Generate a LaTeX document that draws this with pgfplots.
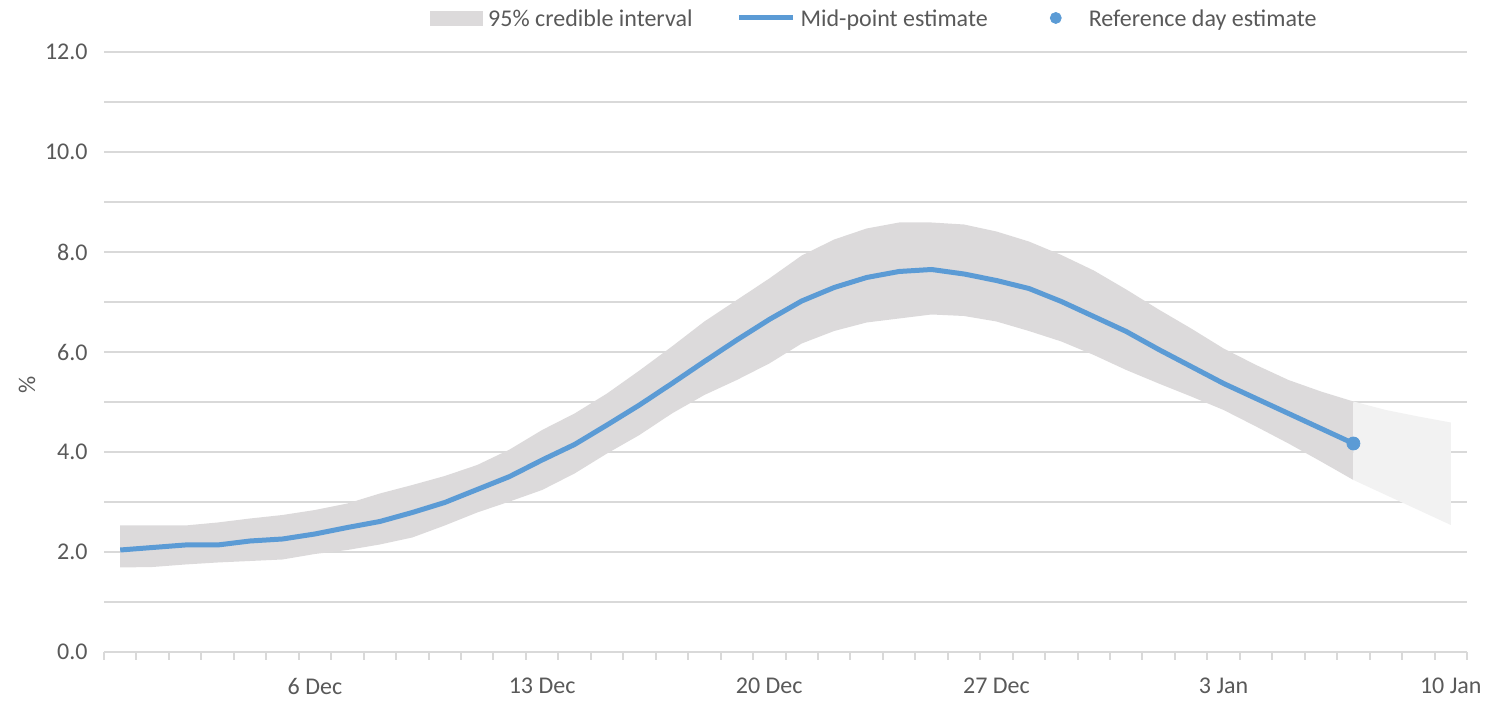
\documentclass[border=0pt]{standalone}
\usepackage{pgfplots}
\pgfplotsset{compat=1.18}
\usepgfplotslibrary{fillbetween}
\usepackage{fontspec}
\setmainfont{Carlito}

\definecolor{txt}{RGB}{89,89,89}
\definecolor{gridc}{RGB}{217,217,217}
\definecolor{bandc}{RGB}{220,218,219}
\definecolor{projc}{RGB}{242,242,242}
\definecolor{lineblue}{RGB}{91,155,213}

% day index 0 = 30 Nov
\pgfplotstableread{
idx mid lo hi
0 2.04 1.69 2.53
1 2.09 1.70 2.53
2 2.14 1.75 2.53
3 2.14 1.79 2.59
4 2.22 1.82 2.67
5 2.26 1.85 2.74
6 2.36 1.96 2.84
7 2.49 2.04 2.97
8 2.61 2.15 3.17
9 2.79 2.29 3.34
10 2.99 2.53 3.52
11 3.25 2.79 3.74
12 3.51 3.01 4.05
13 3.84 3.24 4.44
14 4.15 3.57 4.77
15 4.54 3.97 5.17
16 4.94 4.34 5.63
17 5.37 4.77 6.11
18 5.81 5.14 6.61
19 6.24 5.44 7.04
20 6.65 5.77 7.47
21 7.02 6.17 7.93
22 7.29 6.42 8.25
23 7.49 6.59 8.47
24 7.61 6.67 8.59
25 7.65 6.75 8.59
26 7.56 6.72 8.55
27 7.43 6.61 8.41
28 7.27 6.42 8.21
29 7.01 6.21 7.94
30 6.71 5.94 7.63
31 6.41 5.64 7.25
32 6.05 5.37 6.85
33 5.71 5.11 6.47
34 5.37 4.84 6.07
35 5.07 4.51 5.74
36 4.77 4.17 5.44
37 4.47 3.81 5.21
38 4.17 3.44 5.01
}\est

\pgfplotstableread{
idx lo hi
38 3.44 5.01
39 3.14 4.84
40 2.84 4.71
41 2.54 4.59
}\proj

\begin{document}
\begin{tikzpicture}
\begin{axis}[
  at={(0,0)}, anchor=south west,
  scale only axis, width=681.5pt, height=300pt,
  xmin=-0.5, xmax=41.5, ymin=0, ymax=12,
  axis line style={draw=none},
  xtick pos=bottom, ytick pos=left,
  tick align=outside,
  xtick={6,13,20,27,34,41},
  xticklabels={6 Dec,13 Dec,20 Dec,27 Dec,3 Jan,10 Jan},
  minor xtick={-0.5,0.5,...,41.5},
  ytick={0,2,...,12},
  minor ytick={1,3,...,11},
  major tick length=0pt,
  minor tick length=4pt,
  xtick style={draw=gridc, line width=1pt},
  ytick style={draw=none},
  ymajorgrids, yminorgrids,
  major grid style={draw=gridc, line width=1pt},
  minor grid style={draw=gridc, line width=1pt},
  /pgf/number format/assume math mode=true,
  yticklabel={\pgfmathprintnumber[fixed,fixed zerofill,precision=1]{\tick}},
  tick label style={font=\fontsize{12}{14}\selectfont, text=txt, inner sep=0pt},
  xticklabel style={anchor=north, yshift=-13pt},
  yticklabel style={anchor=east, xshift=-8pt},
  ylabel={\%},
  ylabel style={at={(axis description cs:0,0.445)}, yshift=38.5pt, anchor=center,
    font=\fontsize{12}{14}\selectfont, text=txt, inner sep=0pt},
  legend columns=3,
  legend style={at={(axis description cs:0.2392,1.0567)}, anchor=west, draw=none, fill=none,
    inner sep=0pt, font=\fontsize{12}{14}\selectfont, text=txt,
    nodes={inner sep=0pt, text depth=0pt},
    /tikz/every odd column/.append style={column sep=2.5pt},
    /tikz/every even column/.append style={column sep=22pt}},
]
\addplot[name path=up, draw=none, forget plot] table[x=idx, y=hi]{\est};
\addplot[name path=lo, draw=none, forget plot] table[x=idx, y=lo]{\est};
\addplot[fill=bandc, draw=none, forget plot] fill between[of=up and lo];

\addplot[name path=pup, draw=none, forget plot] table[x=idx, y=hi]{\proj};
\addplot[name path=plo, draw=none, forget plot] table[x=idx, y=lo]{\proj};
\addplot[fill=projc, draw=none, forget plot] fill between[of=pup and plo];

\addplot[lineblue, line width=2.5pt, line join=round, forget plot] table[x=idx, y=mid]{\est};
\addplot[only marks, mark=*, mark size=3.25pt, lineblue, forget plot] coordinates {(38,4.17)};

\addlegendimage{legend image code/.code={\fill[bandc] (0pt,-3.5pt) rectangle (26pt,3.5pt);}}
\addlegendentry{95\% credible interval}
\addlegendimage{legend image code/.code={\draw[lineblue, line width=2.5pt] (0pt,0pt) -- (27pt,0pt);}}
\addlegendentry{Mid-point estimate}
\addlegendimage{legend image code/.code={\path[draw=none] (-12pt,0pt) -- (14pt,0pt); \fill[lineblue] (0pt,0pt) circle (2.75pt);}}
\addlegendentry{Reference day estimate}
\end{axis}
\pgfresetboundingbox
\path[use as bounding box] (-52pt,-24.5pt) rectangle (692.5pt,326pt);
\end{tikzpicture}
\end{document}
